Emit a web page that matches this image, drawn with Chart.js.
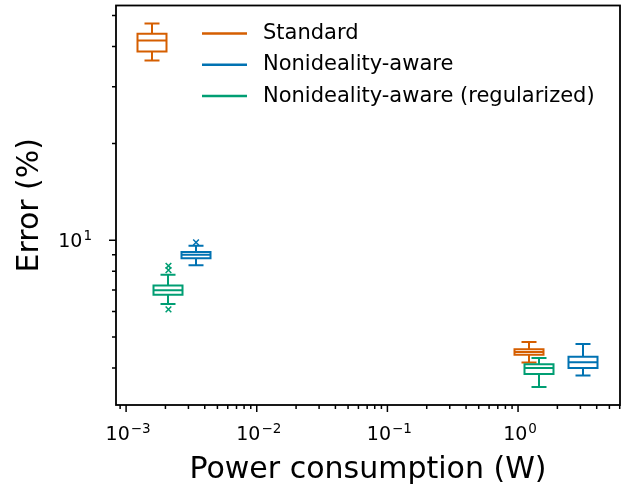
<!DOCTYPE html>
<html>
<head>
<meta charset="utf-8">
<script src="https://cdn.jsdelivr.net/npm/chart.js@4/dist/chart.umd.min.js"></script>
<style>
  html, body { margin: 0; padding: 0; background: #fff; }
</style>
</head>
<body>
<canvas id="chart" width="630" height="491"></canvas>
<script>
const seriesNames = ['Standard', 'Nonideality-aware', 'Nonideality-aware (regularized)'];
const seriesColors = ['#D55E00', '#0072B2', '#009E73'];

// power consumption (W) of each box
const standardPower = [0.00158, 1.22];
const awarePower = [0.00343, 3.16];
const regularizedPower = [0.00211, 1.45];

// box stats per point: [whisker low, q1, median, q3, whisker high]
const standardStats = [[36.2, 38.6, 41.8, 43.9, 47.2], [4.16, 4.40, 4.49, 4.58, 4.82]];
const awareStats = [[8.36, 8.79, 9.00, 9.18, 9.60], [3.79, 4.00, 4.17, 4.34, 4.75]];
const regularizedStats = [[6.33, 6.76, 6.99, 7.23, 7.80], [3.49, 3.83, 4.00, 4.11, 4.30]];

// fliers
const standardOutliers = [];
const awareOutliers = [{ x: 0.00343, y: 9.84 }];
const regularizedOutliers = [{ x: 0.00211, y: 8.32 }, { x: 0.00211, y: 8.07 }, { x: 0.00211, y: 6.09 }];

const xTicks = [1e-3, 1e-2, 1e-1, 1];
const xTickLabels = ['10^−3', '10^−2', '10^−1', '10^0'];
const yTicks = [10];
const yTickLabels = ['10^1'];

const groups = [
    { power: standardPower, stats: standardStats },
    { power: awarePower, stats: awareStats },
    { power: regularizedPower, stats: regularizedStats }
];

const FONT = 'DejaVu Sans';

function minorTicks(min, max) {
    const out = [];
    for (let e = Math.floor(Math.log10(min)); e <= Math.ceil(Math.log10(max)); e++) {
        for (let m = 2; m <= 9; m++) {
            const v = m * Math.pow(10, e);
            if (v > min && v < max) out.push(v);
        }
    }
    return out;
}

// draws "10" with a raised exponent, like matplotlib mathtext
function powLabel(ctx, label, x, baseline, align) {
    const [base, exp] = label.split('^');
    ctx.font = '19px "' + FONT + '"';
    const wb = ctx.measureText(base).width;
    ctx.font = '13.5px "' + FONT + '"';
    const we = ctx.measureText(exp).width;
    const total = wb + 1 + we;
    const x0 = align === 'right' ? x - total : x - total / 2;
    ctx.textAlign = 'left';
    ctx.textBaseline = 'alphabetic';
    ctx.font = '19px "' + FONT + '"';
    ctx.fillText(base, x0, baseline);
    ctx.font = '13.5px "' + FONT + '"';
    ctx.fillText(exp, x0 + wb + 1, baseline - 7);
}

const boxPlugin = {
    id: 'boxes',
    beforeDatasetsDraw(chart) {
        const { ctx, scales: { x, y } } = chart;
        const half = 14.5, cap = 7.5;
        ctx.save();
        ctx.lineWidth = 2;
        groups.forEach((g, i) => {
            ctx.strokeStyle = seriesColors[i];
            g.power.forEach((p, j) => {
                const [lo, q1, med, q3, hi] = g.stats[j];
                const cx = Math.round(x.getPixelForValue(p));
                const pl = y.getPixelForValue(lo), p1 = y.getPixelForValue(q1);
                const pm = y.getPixelForValue(med), p3 = y.getPixelForValue(q3);
                const ph = y.getPixelForValue(hi);
                ctx.beginPath();
                ctx.rect(cx - half, p3, half * 2, p1 - p3);
                ctx.moveTo(cx - half, pm); ctx.lineTo(cx + half, pm);
                ctx.moveTo(cx, p1); ctx.lineTo(cx, pl);
                ctx.moveTo(cx, p3); ctx.lineTo(cx, ph);
                ctx.moveTo(cx - cap, pl); ctx.lineTo(cx + cap, pl);
                ctx.moveTo(cx - cap, ph); ctx.lineTo(cx + cap, ph);
                ctx.stroke();
            });
        });
        ctx.restore();
    },
    afterDraw(chart) {
        const { ctx, chartArea: a, scales: { x, y } } = chart;
        ctx.save();
        ctx.strokeStyle = '#000';
        // tick marks
        ctx.lineWidth = 1.5;
        ctx.beginPath();
        xTicks.forEach(v => { const px = x.getPixelForValue(v); ctx.moveTo(px, a.bottom); ctx.lineTo(px, a.bottom + 7); });
        minorTicks(x.min, x.max).forEach(v => { const px = x.getPixelForValue(v); ctx.moveTo(px, a.bottom); ctx.lineTo(px, a.bottom + 4); });
        yTicks.forEach(v => { const py = y.getPixelForValue(v); ctx.moveTo(a.left, py); ctx.lineTo(a.left - 7, py); });
        minorTicks(y.min, y.max).forEach(v => { const py = y.getPixelForValue(v); ctx.moveTo(a.left, py); ctx.lineTo(a.left - 4, py); });
        ctx.stroke();
        // frame
        ctx.lineWidth = 1.8;
        ctx.strokeRect(a.left, a.top, a.right - a.left, a.bottom - a.top);
        // tick labels
        ctx.fillStyle = '#000';
        xTicks.forEach((v, i) => powLabel(ctx, xTickLabels[i], x.getPixelForValue(v) + 2, a.bottom + 35, 'center'));
        yTicks.forEach((v, i) => powLabel(ctx, yTickLabels[i], a.left - 24, y.getPixelForValue(v) + 7, 'right'));
        // legend
        ctx.font = '21px "' + FONT + '"';
        ctx.textBaseline = 'middle';
        ctx.textAlign = 'left';
        seriesNames.forEach((name, i) => {
            const ly = a.top + 28 + i * 31.3;
            ctx.strokeStyle = seriesColors[i];
            ctx.lineWidth = 2.5;
            ctx.beginPath();
            ctx.moveTo(a.left + 86, ly);
            ctx.lineTo(a.left + 131, ly);
            ctx.stroke();
            ctx.fillText(name, a.left + 147, ly);
        });
        ctx.restore();
    }
};

const outlierSets = [standardOutliers, awareOutliers, regularizedOutliers];

function fixX(s) { s.height = 86; s.paddingLeft = 0; s.paddingRight = 0; }
function fixY(s) { s.width = 116; s.paddingTop = 0; s.paddingBottom = 0; }

new Chart(document.getElementById('chart'), {
    type: 'scatter',
    data: {
        datasets: outlierSets.map((pts, i) => ({
            label: seriesNames[i],
            data: pts,
            pointStyle: 'crossRot',
            pointRadius: 4,
            borderWidth: 1.5,
            borderColor: seriesColors[i],
            backgroundColor: seriesColors[i]
        }))
    },
    options: {
        responsive: false,
        animation: false,
        devicePixelRatio: 1,
        layout: { padding: { top: 5, right: 10, left: 0, bottom: 0 } },
        plugins: { legend: { display: false }, tooltip: { enabled: false } },
        scales: {
            x: {
                type: 'logarithmic',
                min: 8.37e-4,
                max: 6.03,
                grid: { display: false, drawTicks: false },
                border: { display: false },
                afterBuildTicks: s => { s.ticks = xTicks.map(v => ({ value: v })); },
                afterFit: fixX,
                ticks: { display: false },
                title: {
                    display: true,
                    text: 'Power consumption (W)',
                    color: '#000',
                    font: { family: FONT, size: 30 },
                    padding: { top: 0, bottom: 3 }
                }
            },
            y: {
                type: 'logarithmic',
                min: 3.07,
                max: 53.7,
                grid: { display: false, drawTicks: false },
                border: { display: false },
                afterBuildTicks: s => { s.ticks = yTicks.map(v => ({ value: v })); },
                afterFit: fixY,
                ticks: { display: false },
                title: {
                    display: true,
                    text: 'Error (%)',
                    color: '#000',
                    font: { family: FONT, size: 30 },
                    padding: { top: 12, bottom: 0 }
                }
            }
        }
    },
    plugins: [boxPlugin]
});
</script>
</body>
</html>
